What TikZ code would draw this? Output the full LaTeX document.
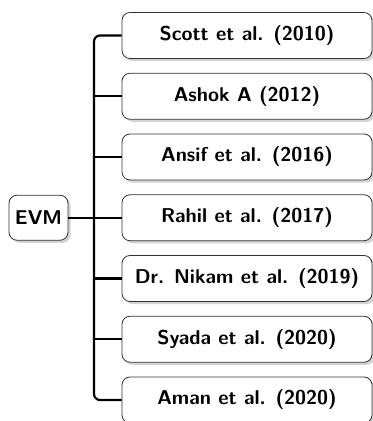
\documentclass[tikz,border=0pt]{standalone}
\usepackage{tikz}
\usetikzlibrary{shadows,calc}
\tikzset{>=latex}
\tikzset{
  refbox/.style={draw=black!80,line width=0.4pt,fill=white,rounded corners=4pt,
    minimum width=125pt,minimum height=23pt,inner sep=0pt,
    font=\sffamily\bfseries,
    drop shadow={shadow xshift=1.3pt,shadow yshift=-1.3pt,opacity=0.35}},
  rootbox/.style={refbox,minimum width=29.5pt,minimum height=22.5pt},
  branch/.style={line width=1.1pt,black}
}

\begin{document}
\begin{tikzpicture}[x=0.5pt,y=0.5pt]
    \useasboundingbox (0,0) rectangle (373,421);
    \node[rootbox] (evm) at (38.5,203.25) {EVM};
    \node[refbox] (r1) at (247,385.5) {Scott et al. (2010)};
    \node[refbox] (r2) at (247,324.75) {Ashok A (2012)};
    \node[refbox] (r3) at (247,264) {Ansif et al. (2016)};
    \node[refbox] (r4) at (247,203.25) {Rahil et al. (2017)};
    \node[refbox] (r5) at (247,142.5) {Dr. Nikam et al. (2019)};
    \node[refbox] (r6) at (247,81.75) {Syada et al. (2020)};
    \node[refbox] (r7) at (247,21) {Aman et al. (2020)};
    \coordinate (trunk) at (94,0);
    % trunk with the two rounded ends
    \draw[branch,rounded corners=3pt] (r1.west) -| (r7.west -| trunk) -- (r7.west);
    \draw[branch] (evm.east) -- (r4.west);
    \draw[branch] (r2.west -| trunk) -- (r2.west);
    \draw[branch] (r3.west -| trunk) -- (r3.west);
    \draw[branch] (r5.west -| trunk) -- (r5.west);
    \draw[branch] (r6.west -| trunk) -- (r6.west);
  \end{tikzpicture}
\end{document}
